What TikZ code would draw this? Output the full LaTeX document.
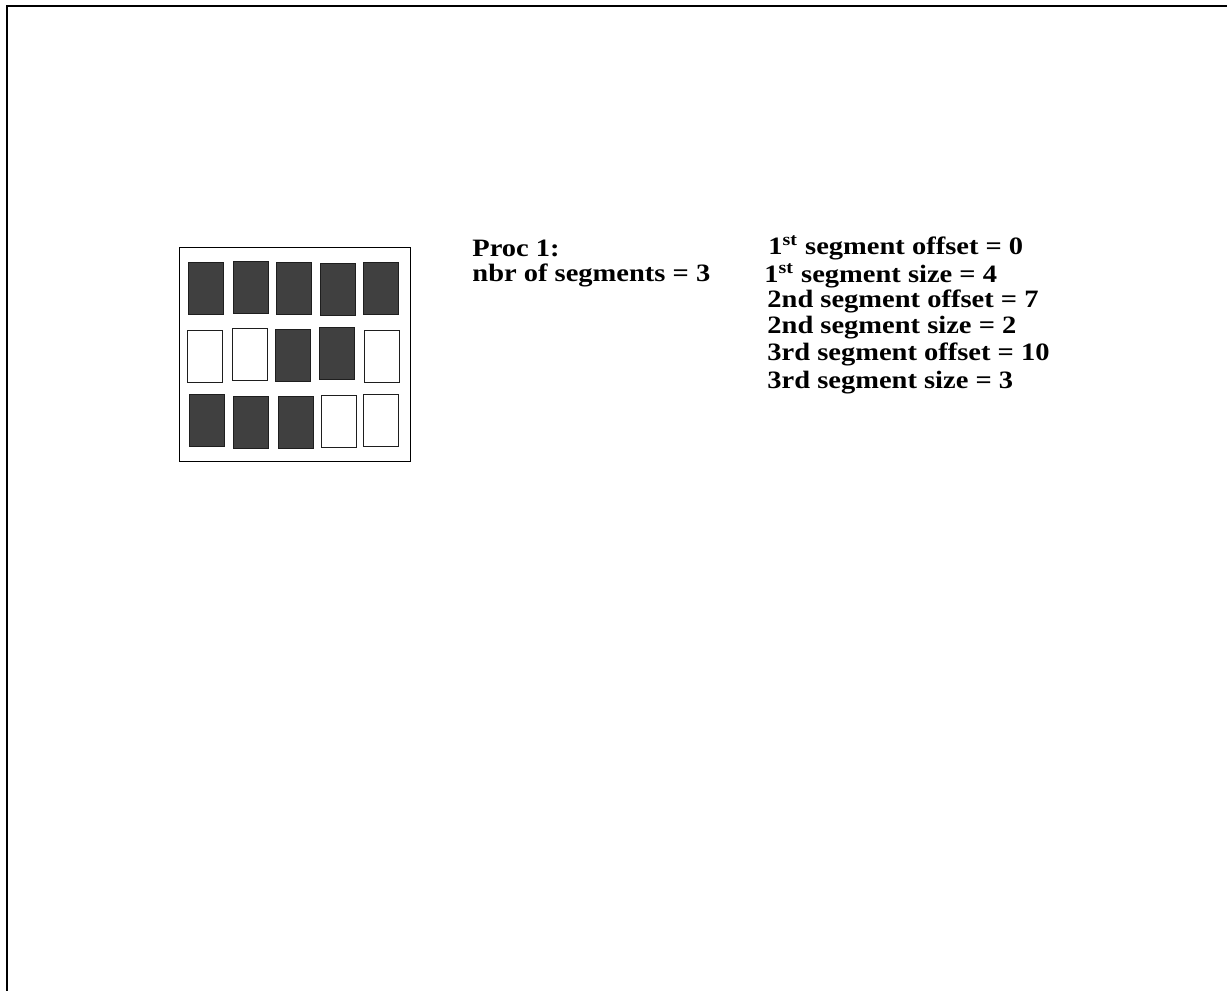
\documentclass[tikz,border=0pt]{standalone}
\usepackage{fontspec}
\setmainfont{Liberation Serif}
\newfontfamily\lblfont[FakeStretch=1.14]{Liberation Serif}
\usetikzlibrary{positioning}
\definecolor{cellgray}{RGB}{64, 64, 64}
\definecolor{cellline}{RGB}{30, 30, 30}

\begin{document}
\begin{tikzpicture}[x=0.5pt, y=-0.5pt,
  fullcell/.style={draw=cellline, line width=0.5pt, fill=cellgray, inner sep=0pt, minimum width=17.5pt, minimum height=26pt},
  emptycell/.style={draw=cellline, line width=0.5pt, fill=white, inner sep=0pt, minimum width=17.5pt, minimum height=26pt},
  lbl/.style={anchor=base west, inner sep=0pt, font=\lblfont\fontsize{12.5}{14}\selectfont\bfseries}]
  \useasboundingbox (0, 0) rectangle (1227, 991);

  % page frame
  \draw[line width=1.2pt] (7, 991) -- (7, 6) -- (1227, 6);

  % memory block
  \node[draw, line width=0.5pt, inner sep=0pt, minimum width=115.5pt, minimum height=107pt] (block) at (294.5, 354) {};

  \foreach \n/\x/\y/\s in {a1/206/288/fullcell, a2/250.5/287/fullcell, a3/293.5/288/fullcell, a4/338/289/fullcell, a5/380.5/288/fullcell,
                           b1/205/356/emptycell, b2/249.5/354.5/emptycell, b3/292.5/355/fullcell, b4/337/353.5/fullcell, b5/381.5/356/emptycell,
                           c1/206.5/420.5/fullcell, c2/251/422.5/fullcell, c3/295.5/422.5/fullcell, c4/338.5/421.5/emptycell, c5/381/420.5/emptycell}
    \node[\s] (\n) at (\x, \y) {};

  % description
  \node[lbl] (proc) at (472, 256) {Proc 1:};
  \node[lbl] (nbr) at (472, 281) {nbr of segments = 3};

  \node[lbl] (off1) at (768, 254) {1\textsuperscript{st} segment offset = 0};
  \node[lbl] (size1) at (764, 282) {1\textsuperscript{st} segment size = 4};
  \node[lbl] (off2) at (767, 307) {2nd segment offset = 7};
  \node[lbl] (size2) at (767, 333) {2nd segment size = 2};
  \node[lbl] (off3) at (767, 360) {3rd segment offset = 10};
  \node[lbl] (size3) at (767, 388) {3rd segment size = 3};
\end{tikzpicture}
\end{document}
